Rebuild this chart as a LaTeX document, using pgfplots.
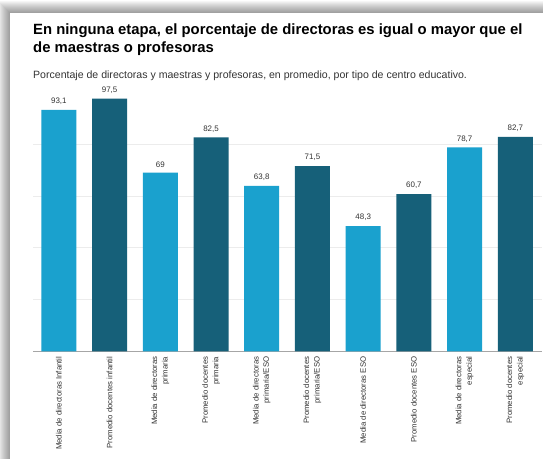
\documentclass[border=0pt]{standalone}
\usepackage{pgfplots}
\pgfplotsset{compat=1.18}
\usepackage{fontspec}
\setmainfont{Liberation Sans}
\definecolor{lightb}{RGB}{26,161,206}
\definecolor{darkb}{RGB}{22,96,121}
\definecolor{txt}{RGB}{51,51,51}
\begin{document}
\begin{tikzpicture}[x=1bp,y=1bp]
\useasboundingbox (0,0) rectangle (543,459);
\fill[white] (0,0) rectangle (543,459);
\foreach \i in {1,...,12}{
  \fill[black,opacity=0.035] (10-\i,0) rectangle (543,446.3+\i);
}
\fill[white] (10,0) rectangle (543,446.3);
\node[anchor=base west,inner sep=0pt,font=\fontsize{14.9}{18}\selectfont\bfseries,text=black] at (33,459-35) {En ninguna etapa, el porcentaje de directoras es igual o mayor que el};
\node[anchor=base west,inner sep=0pt,font=\fontsize{14.9}{18}\selectfont\bfseries,text=black] at (33,459-53) {de maestras o profesoras};
\node[anchor=base west,inner sep=0pt,font=\fontsize{10.6}{12}\selectfont,text=txt] at (33,459-78.5) {Porcentaje de directoras y maestras y profesoras, en promedio, por tipo de centro educativo.};
\begin{axis}[
  at={(33bp,107.5bp)}, anchor=south west,
  scale only axis, width=508.7bp, height=259.4bp,
  xmin=-0.51, xmax=9.52, ymin=0, ymax=100,
  axis x line*=bottom, axis y line*=left,
  x axis line style={draw=gray!70,line width=0.7pt,-},
  y axis line style={draw=none},
  ytick={20,40,60,80}, yticklabels={},
  ymajorgrids, grid style={draw=gray!15,line width=0.6pt},
  xtick={0,...,9}, major tick length=0pt,
  xticklabels={{Media de directoras Infantil},{Promedio docentes infantil},{Media de directoras\\primaria},{Promedio docentes\\primaria},{Media de directoras\\primaria/ESO},{Promedio docentes\\primaria/ESO},{Media de directoras ESO},{Promedio docentes ESO},{Media de directoras\\especial},{Promedio docentes\\especial}},
  xticklabel style={rotate=90,anchor=east,align=right,font=\fontsize{7.8}{10.5}\selectfont,text=txt,inner sep=0pt,xshift=-5bp},
  ybar, bar width=35bp,
  nodes near coords, point meta=explicit symbolic,
  nodes near coords style={font=\fontsize{8}{9}\selectfont,text=txt,anchor=south,inner sep=0pt,yshift=5bp},
  clip=false,
]
\addplot[fill=lightb,draw=none,bar shift=0pt] table[meta=lab] {
x y lab
0 93.1 93,1
2 69 69
4 63.8 63,8
6 48.3 48,3
8 78.7 78,7
};
\addplot[fill=darkb,draw=none,bar shift=0pt] table[meta=lab] {
x y lab
1 97.5 97,5
3 82.5 82,5
5 71.5 71,5
7 60.7 60,7
9 82.7 82,7
};
\end{axis}
\end{tikzpicture}
\end{document}
